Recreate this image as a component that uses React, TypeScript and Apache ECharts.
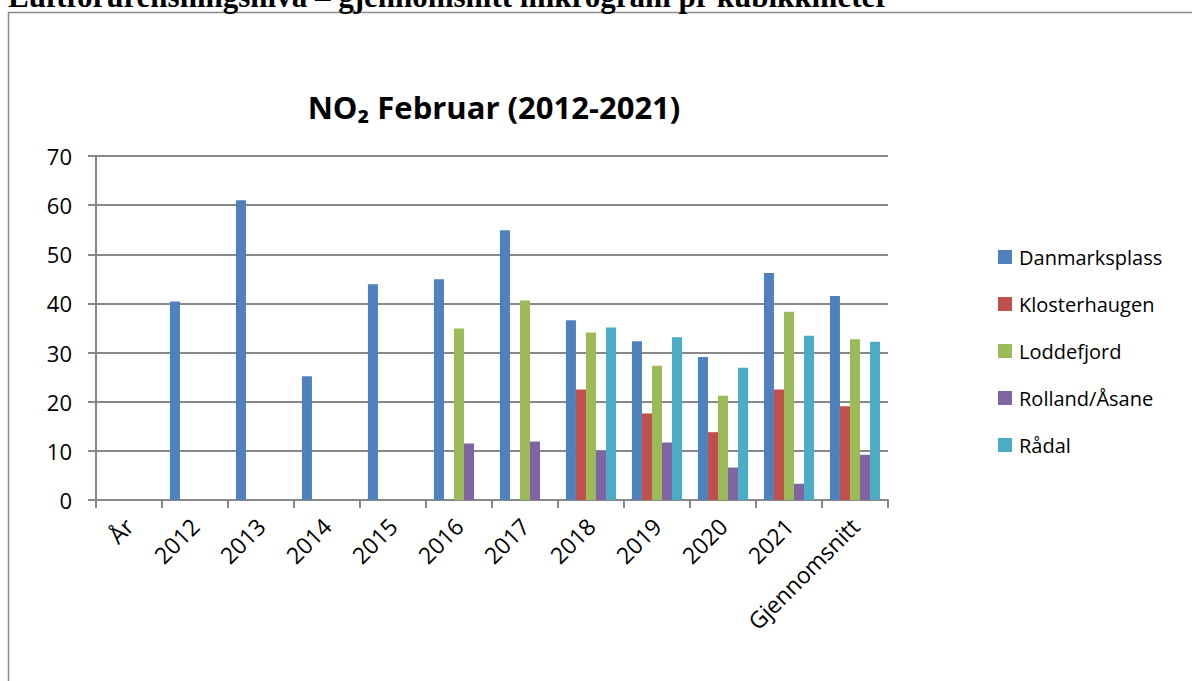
import React, { useEffect, useRef } from "react";
import * as echarts from "echarts";

const categories = ["År", "2012", "2013", "2014", "2015", "2016", "2017", "2018", "2019", "2020", "2021", "Gjennomsnitt"];
const danmarksplass = [null, 40.4, 61.0, 25.2, 43.9, 44.9, 54.9, 36.6, 32.3, 29.1, 46.2, 41.5];
const klosterhaugen = [null, null, null, null, null, null, null, 22.5, 17.6, 13.8, 22.5, 19.1];
const loddefjord = [null, null, null, null, null, 34.9, 40.6, 34.1, 27.3, 21.2, 38.3, 32.7];
const rollandAsane = [null, null, null, null, null, 11.5, 11.9, 10.0, 11.7, 6.6, 3.3, 9.2];
const radal = [null, null, null, null, null, null, null, 35.1, 33.1, 26.9, 33.4, 32.2];
const seriesNames = ["Danmarksplass", "Klosterhaugen", "Loddefjord", "Rolland/Åsane", "Rådal"];
const seriesData = [danmarksplass, klosterhaugen, loddefjord, rollandAsane, radal];
const colors = ["#4F81BD", "#C0504D", "#9BBB59", "#8064A2", "#4BACC6"];

const FONT = "'Open Sans', 'Noto Sans', sans-serif";

export default function App() {
  const ref = useRef<HTMLDivElement>(null);
  useEffect(() => {
    if (!ref.current) return;
    const chart = echarts.init(ref.current, null, { renderer: "svg" });
    chart.setOption({
      animation: false,
      color: colors,
      title: {
        text: "NO₂ Februar (2012-2021)",
        left: 489,
        textAlign: "center",
        top: 86,
        textStyle: { fontFamily: FONT, fontSize: 31, fontWeight: "bold", color: "#000" },
      },
      graphic: [
        {
          type: "rect",
          shape: { x: 8.5, y: 12.5, width: 1200, height: 700 },
          style: { fill: "none", stroke: "#8a8a8a", lineWidth: 1.5 },
          silent: true,
        },
        {
          type: "text",
          left: 8,
          top: -19,
          style: {
            text: "Luftforurensningsnivå – gjennomsnitt mikrogram pr kubikkmeter",
            font: "bold 31px 'Liberation Serif', 'DejaVu Serif', serif",
            fill: "#000",
          },
          silent: true,
        },
      ],
      legend: {
        orient: "vertical",
        left: 993,
        top: 242,
        itemWidth: 14,
        itemHeight: 14,
        itemGap: 27,
        icon: "rect",
        textStyle: { fontFamily: FONT, fontSize: 20, color: "#000", padding: [0, 0, 0, 2] },
        data: seriesNames,
      },
      grid: { left: 96, right: 304, top: 156, bottom: 181, containLabel: false },
      xAxis: {
        type: "category",
        data: categories,
        axisLine: { lineStyle: { color: "#888", width: 2 } },
        axisTick: { show: true, length: 8, alignWithLabel: false, lineStyle: { color: "#888", width: 2 } },
        axisLabel: {
          rotate: 45,
          interval: 0,
          margin: 22,
          fontFamily: FONT,
          fontSize: 23,
          color: "#000",
        },
      },
      yAxis: {
        type: "value",
        min: 0,
        max: 70,
        interval: 10,
        axisLine: { show: true, lineStyle: { color: "#888", width: 2 } },
        axisTick: { show: true, length: 8, lineStyle: { color: "#888", width: 2 } },
        splitLine: { lineStyle: { color: "#888", width: 2 } },
        axisLabel: { margin: 24, fontFamily: FONT, fontSize: 22, color: "#000" },
      },
      series: seriesNames.map((name, i) => ({
        name,
        type: "bar",
        data: seriesData[i],
        barGap: "0%",
        barCategoryGap: "24%",
        itemStyle: { color: colors[i] },
      })),
    });
    return () => chart.dispose();
  }, []);
  return (
    <div
      ref={ref}
      style={{ position: "fixed", left: 0, top: 0, width: 1192, height: 681, background: "#fff" }}
    />
  );
}
